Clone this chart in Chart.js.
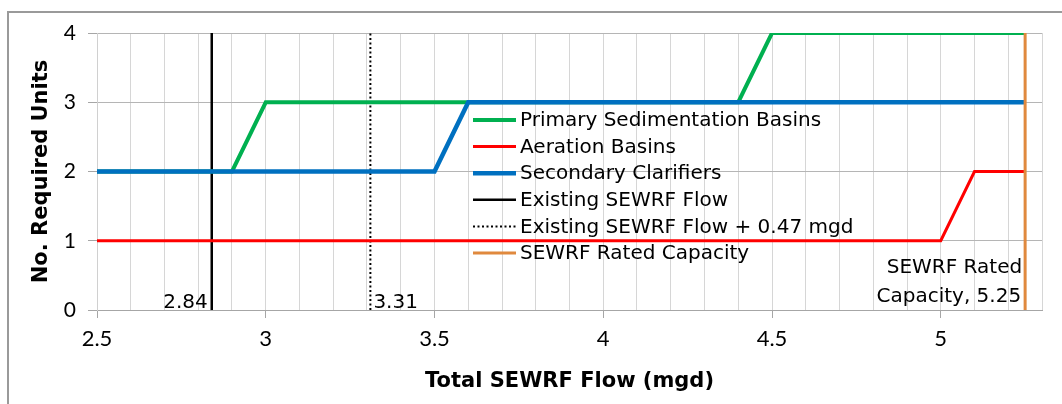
<!DOCTYPE html>
<html>
<head>
<meta charset="utf-8">
<script src="https://cdn.jsdelivr.net/npm/chart.js@4.4.1/dist/chart.umd.min.js"></script>
<style>
  body { margin: 0; background: #fff; }
  #wrap { position: relative; width: 1062px; height: 404px; overflow: hidden; }
  #frame { position: absolute; left: 7px; top: 11px; width: 1100px; height: 500px;
           border-left: 2px solid #9a9a9a; border-top: 2px solid #9a9a9a; }
  #chart { position: absolute; left: 0; top: 0; }
</style>
</head>
<body>
<div id="wrap">
  <div id="frame"></div>
  <canvas id="chart" width="1062" height="404"></canvas>
</div>
<script>
// flow (mgd) and required units for each process
const primaryFlow = [2.5, 2.9, 3.0, 4.4, 4.5, 5.25];
const primaryUnits = [2, 2, 3, 3, 4, 4];
const aerationFlow = [2.5, 5.0, 5.1, 5.25];
const aerationUnits = [1, 1, 2, 2];
const secondaryFlow = [2.5, 3.5, 3.6, 5.25];
const secondaryUnits = [2, 2, 3, 3];

const existingFlow = 2.84;
const existingPlusFlow = 3.31;
const ratedCapacity = 5.25;

const seriesLabels = [
  "Primary Sedimentation Basins",
  "Aeration Basins",
  "Secondary Clarifiers",
  "Existing SEWRF Flow",
  "Existing SEWRF Flow + 0.47 mgd",
  "SEWRF Rated Capacity",
];
const xTickLabels = ["2.5", "3", "3.5", "4", "4.5", "5"];
const yTickLabels = ["0", "1", "2", "3", "4"];

const TEXT_FONT = "'DejaVu Sans', sans-serif";
const NUM_FONT = "Lato, 'DejaVu Sans', sans-serif";

function toPoints(xs, ys) {
  return xs.map((x, i) => ({ x: x, y: ys[i] }));
}
function vertical(x) {
  return [{ x: x, y: 0 }, { x: x, y: 4 }];
}
function isMajor(v) {
  return xTickLabels.indexOf(String(Math.round(v * 10) / 10)) !== -1;
}

const legendPlugin = {
  id: "sideLegend",
  afterDraw(chart) {
    const ctx = chart.ctx;
    ctx.save();
    ctx.font = "20px " + TEXT_FONT;
    ctx.textBaseline = "middle";
    ctx.fillStyle = "#000";
    chart.data.datasets.forEach((ds, i) => {
      const y = 120 + i * 26.6;
      ctx.beginPath();
      ctx.strokeStyle = ds.borderColor;
      ctx.lineWidth = ds.borderWidth;
      ctx.setLineDash(ds.borderDash || []);
      ctx.moveTo(473, y);
      ctx.lineTo(516, y);
      ctx.stroke();
      ctx.setLineDash([]);
      ctx.fillText(ds.label, 520, y + 1);
    });
    ctx.restore();
  },
};

const notePlugin = {
  id: "flowNotes",
  afterDatasetsDraw(chart) {
    const ctx = chart.ctx;
    const xs = chart.scales.x;
    ctx.save();
    ctx.font = "20px " + TEXT_FONT;
    ctx.fillStyle = "#000";
    ctx.textBaseline = "alphabetic";
    ctx.textAlign = "right";
    ctx.fillText(String(existingFlow), xs.getPixelForValue(existingFlow) - 4, 308);
    ctx.fillText("SEWRF Rated", xs.getPixelForValue(ratedCapacity) - 3, 273);
    ctx.fillText("Capacity, " + ratedCapacity, xs.getPixelForValue(ratedCapacity) - 4, 302);
    ctx.textAlign = "left";
    ctx.fillText(String(existingPlusFlow), xs.getPixelForValue(existingPlusFlow) + 3, 308);
    ctx.restore();
  },
};

new Chart(document.getElementById("chart").getContext("2d"), {
  type: "line",
  data: {
    datasets: [
      {
        label: seriesLabels[0],
        data: toPoints(primaryFlow, primaryUnits),
        borderColor: "#00b050",
        borderWidth: 4,
        order: 2,
      },
      {
        label: seriesLabels[1],
        data: toPoints(aerationFlow, aerationUnits),
        borderColor: "#ff0000",
        borderWidth: 3,
        order: 3,
      },
      {
        label: seriesLabels[2],
        data: toPoints(secondaryFlow, secondaryUnits),
        borderColor: "#0070c0",
        borderWidth: 4.5,
        order: 1,
      },
      {
        label: seriesLabels[3],
        data: vertical(existingFlow),
        borderColor: "#000",
        borderWidth: 2.5,
        order: 4,
      },
      {
        label: seriesLabels[4],
        data: vertical(existingPlusFlow),
        borderColor: "#000",
        borderWidth: 2,
        borderDash: [2, 2.5],
        order: 5,
      },
      {
        label: seriesLabels[5],
        data: vertical(ratedCapacity),
        borderColor: "#e0893e",
        borderWidth: 3,
        order: 0,
      },
    ],
  },
  options: {
    responsive: false,
    animation: false,
    elements: {
      point: { radius: 0 },
      line: { tension: 0, borderCapStyle: "butt" },
    },
    layout: { padding: { left: 0, top: 33, right: 20, bottom: 0 } },
    plugins: {
      legend: { display: false },
      tooltip: { enabled: false },
    },
    scales: {
      x: {
        type: "linear",
        min: 2.5,
        max: 5.3,
        afterFit: (s) => { s.height = 94; },
        ticks: {
          stepSize: 0.1,
          autoSkip: false,
          maxRotation: 0,
          padding: 8,
          color: "#000",
          font: { family: NUM_FONT, size: 22 },
          callback: (v) => (isMajor(v) ? String(Math.round(v * 10) / 10) : ""),
        },
        grid: {
          color: "#d6d6d6",
          lineWidth: 1,
          tickLength: 8,
          tickColor: (c) => (c.tick && isMajor(c.tick.value) ? "#a6a6a6" : "rgba(0,0,0,0)"),
        },
        border: { display: true, color: "#a6a6a6", width: 1 },
        title: {
          display: true,
          text: "Total SEWRF Flow (mgd)",
          color: "#000",
          font: { family: TEXT_FONT, size: 21, weight: "bold" },
          padding: { top: 0, bottom: 10 },
        },
      },
      y: {
        min: 0,
        max: 4,
        afterFit: (s) => { s.width = 97; },
        ticks: {
          stepSize: 1,
          padding: 12,
          color: "#000",
          font: { family: NUM_FONT, size: 21 },
          callback: (v) => yTickLabels[v],
        },
        grid: {
          color: "#b5b5b5",
          tickColor: "#a6a6a6",
          tickLength: 9,
        },
        border: { display: true, color: "#d0d0d0" },
        title: {
          display: true,
          text: "No. Required Units",
          color: "#000",
          font: { family: TEXT_FONT, size: 21, weight: "bold" },
          padding: { top: 29, bottom: 0 },
        },
      },
    },
  },
  plugins: [legendPlugin, notePlugin],
});
</script>
</body>
</html>
